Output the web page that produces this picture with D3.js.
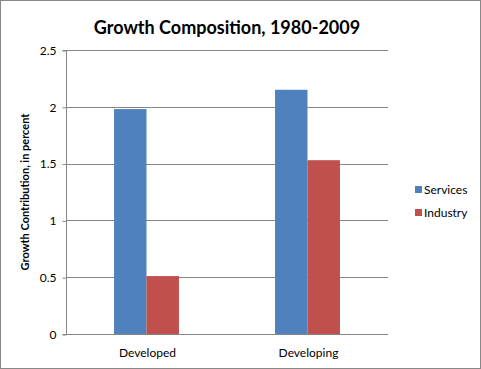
<!DOCTYPE html>
<html>
<head>
<meta charset="utf-8">
<script src="https://cdn.jsdelivr.net/npm/d3@7"></script>
<style>
  body { margin: 0; background: #fff; }
  svg { display: block; font-family: Lato, "Open Sans", sans-serif; }
</style>
</head>
<body>
<svg id="chart" width="481" height="369"></svg>
<script>
// data
var categories = ["Developed", "Developing"];
var seriesNames = ["Services", "Industry"];
var services = [1.98, 2.15];
var industry = [0.51, 1.53];
var yTicks = [0, 0.5, 1, 1.5, 2, 2.5];

var colors = { Services: "#4F81BD", Industry: "#C0504D" };
var gridColor = "#868686";

var svg = d3.select("#chart");

// outer frame
svg.append("rect")
    .attr("x", 0.5).attr("y", 0.5)
    .attr("width", 480).attr("height", 368)
    .attr("fill", "#fff")
    .attr("stroke", "#888");

var plot = { left: 66, right: 388, top: 50, bottom: 334 };

var x0 = d3.scaleBand()
    .domain(categories)
    .range([plot.left, plot.right])
    .padding(0);

var x1 = d3.scaleBand()
    .domain(seriesNames)
    .range([0, x0.bandwidth()])
    .paddingInner(0)
    .paddingOuter(1.48);

var y = d3.scaleLinear()
    .domain([0, 2.5])
    .range([plot.bottom, plot.top]);

// gridlines
svg.append("g")
  .selectAll("line")
    .data(yTicks)
  .enter().append("line")
    .attr("x1", plot.left).attr("x2", plot.right)
    .attr("y1", function(d) { return Math.round(y(d)) + 0.5; })
    .attr("y2", function(d) { return Math.round(y(d)) + 0.5; })
    .attr("stroke", gridColor)
    .attr("stroke-width", 1);

// bars
var rows = categories.map(function(c, i) {
  return { cat: c, values: [ { s: "Services", v: services[i] }, { s: "Industry", v: industry[i] } ] };
});

svg.append("g")
  .selectAll("g")
    .data(rows)
  .enter().append("g")
    .attr("transform", function(d) { return "translate(" + x0(d.cat) + ",0)"; })
  .selectAll("rect")
    .data(function(d) { return d.values; })
  .enter().append("rect")
    .attr("x", function(d) { return x1(d.s); })
    .attr("width", x1.bandwidth())
    .attr("y", function(d) { return y(d.v); })
    .attr("height", function(d) { return y(0) - y(d.v); })
    .attr("fill", function(d) { return colors[d.s]; });

// y axis
var yAxis = d3.axisLeft(y)
    .tickValues(yTicks)
    .tickSize(4)
    .tickPadding(6)
    .tickFormat(d3.format("~g"));

var gy = svg.append("g")
    .attr("transform", "translate(" + (plot.left + 0.5) + ",0.5)")
    .call(yAxis);
gy.selectAll("path, line").attr("stroke", gridColor);
gy.select(".domain").attr("d", "M-4," + (plot.top) + "H0V" + plot.bottom + "H-4");
gy.selectAll("text")
    .attr("font-size", 12)
    .attr("font-family", "Lato, sans-serif")
    .attr("fill", "#000");

// x axis labels
svg.append("g")
  .selectAll("text")
    .data(categories)
  .enter().append("text")
    .attr("x", function(d) { return x0(d) + x0.bandwidth() / 2 + 1; })
    .attr("y", 357)
    .attr("text-anchor", "middle")
    .attr("font-size", 12)
    .text(function(d) { return d; });

// title
svg.append("text")
    .attr("x", 227)
    .attr("y", 34)
    .attr("text-anchor", "middle")
    .attr("font-size", 18)
    .attr("font-weight", "bold")
    .text("Growth Composition, 1980-2009");

// y axis title
svg.append("text")
    .attr("transform", "translate(29,192) rotate(-90)")
    .attr("text-anchor", "middle")
    .attr("font-size", 11)
    .attr("font-weight", "bold")
    .text("Growth Contribution, in percent");

// legend
var legend = svg.append("g")
  .selectAll("g")
    .data(seriesNames)
  .enter().append("g")
    .attr("transform", function(d, i) { return "translate(415," + (186 + i * 23) + ")"; });

legend.append("rect")
    .attr("width", 7).attr("height", 7)
    .attr("fill", function(d) { return colors[d]; });

legend.append("text")
    .attr("x", 9)
    .attr("y", 7.5)
    .attr("font-size", 12)
    .text(function(d) { return d; });
</script>
</body>
</html>
